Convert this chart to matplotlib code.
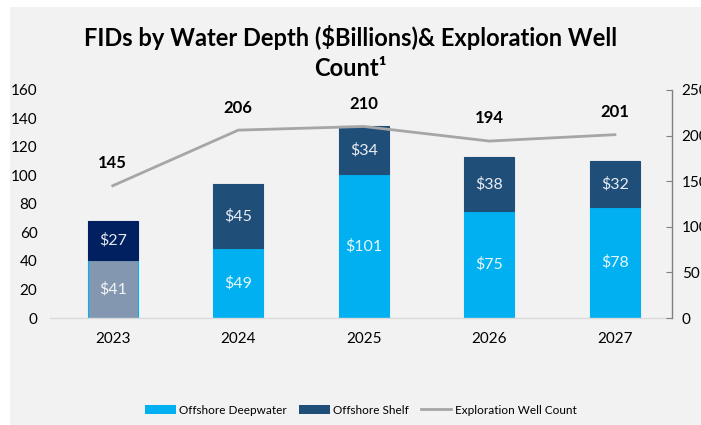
import matplotlib
matplotlib.use("Agg")
import matplotlib.pyplot as plt
from matplotlib.patches import Rectangle, Patch
from matplotlib.lines import Line2D
import numpy as np

years = ["2023", "2024", "2025", "2026", "2027"]
deepwater = [41, 49, 101, 75, 78]
shelf = [27, 45, 34, 38, 32]
wells = [145, 206, 210, 194, 201]

plt.rcParams['font.family'] = ['Lato', 'DejaVu Sans']

W, H = 701, 425
fig = plt.figure(figsize=(W / 100, H / 100), dpi=100)
fig.patch.set_facecolor("white")
fig.patches.append(Rectangle((10 / W, 0), 1 - 10 / W, 1 - 7 / H, transform=fig.transFigure,
                             facecolor="#f2f2f2", edgecolor="none", zorder=-10))

ax = fig.add_axes([50 / W, (H - 318) / H, (672 - 50) / W, (318 - 90) / H])
ax.set_facecolor("none")
x = np.arange(len(years))
bw = 0.4

deep_colors = ["#8497b0"] + ["#00b0f0"] * 4
shelf_colors = ["#002060"] + ["#1f4e79"] * 4
edge_deep = ["#00b0f0"] * 5

ax.bar(x, deepwater, bw, color=deep_colors, edgecolor=edge_deep, linewidth=0.8, zorder=2)
ax.bar(x, shelf, bw, bottom=deepwater, color=shelf_colors, edgecolor=shelf_colors, linewidth=0.8, zorder=2)

for i in range(len(years)):
    ax.text(x[i], deepwater[i] / 2, f"${deepwater[i]}", ha="center", va="center",
            color="white", fontsize=11.5, alpha=0.9, zorder=3)
    ax.text(x[i], deepwater[i] + shelf[i] / 2, f"${shelf[i]}", ha="center", va="center",
            color="white", fontsize=11.5, alpha=0.9, zorder=3)

ax.set_xlim(-0.5, 4.455)
ax.set_ylim(0, 160)
ax.set_yticks(range(0, 161, 20))
ax.set_xticks(x)
ax.set_xticklabels(years)
ax.tick_params(axis="both", length=0, labelsize=11, colors="#000000")
ax.tick_params(axis="x", pad=10)
ax.tick_params(axis="y", pad=9)
for s in ["top", "right", "left"]:
    ax.spines[s].set_visible(False)
ax.spines["bottom"].set_color("#d9d9d9")
ax.spines["bottom"].set_linewidth(1)

ax2 = ax.twinx()
ax2.set_ylim(0, 250)
ax2.set_yticks(range(0, 251, 50))
ax2.plot(x, wells, color="#a6a6a6", linewidth=2, zorder=4)
for i in range(len(years)):
    ax2.annotate(str(wells[i]), (x[i], wells[i]), xytext=(0, 10.5), textcoords="offset points",
                 ha="center", va="bottom", fontsize=12, fontweight="bold", color="black")
for s in ["top", "left", "bottom"]:
    ax2.spines[s].set_visible(False)
ax2.spines["right"].set_color("#808080")
ax2.spines["right"].set_linewidth(1)
ax2.tick_params(axis="y", direction="in", length=4, color="#808080", labelsize=11, pad=7)

fig.text(0.5, 1 - 38 / H, "FIDs by Water Depth ($Billions)& Exploration Well",
         ha="center", va="center", fontsize=17, fontweight="bold")
fig.text(0.5, 1 - 68 / H, "Count¹", ha="center", va="center", fontsize=17, fontweight="bold")

handles = [Patch(facecolor="#00b0f0", edgecolor="none"),
           Patch(facecolor="#1f4e79", edgecolor="none"),
           Line2D([0], [0], color="#a6a6a6", linewidth=2)]
labels = ["Offshore Deepwater", "Offshore Shelf", "Exploration Well Count"]
fig.legend(handles, labels, loc="center", bbox_to_anchor=(361 / W, 1 - 410 / H), ncol=3,
           frameon=False, fontsize=8.5, handlelength=2.6, handleheight=0.7, columnspacing=1.0,
           handletextpad=0.3)

fig.savefig("out.png", dpi=100, facecolor=fig.get_facecolor())
